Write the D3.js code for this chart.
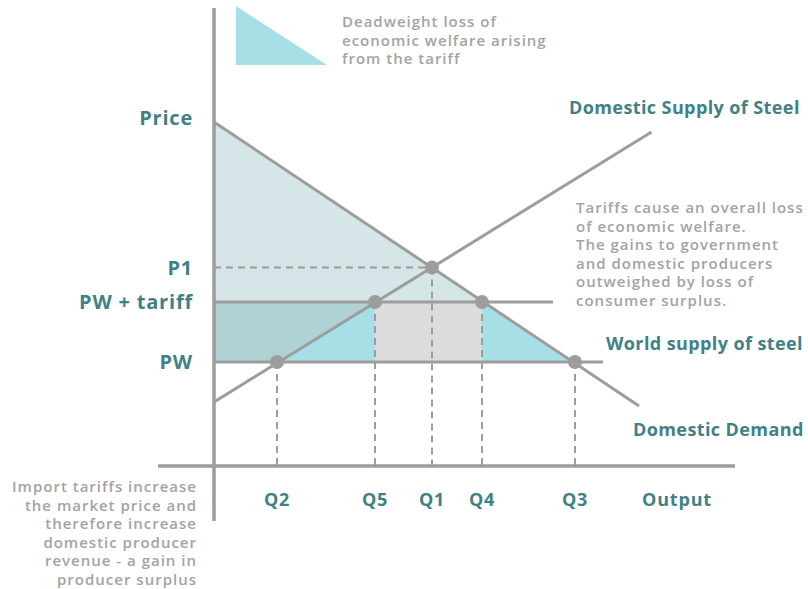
<!DOCTYPE html>
<html>
<head>
<meta charset="utf-8">
<script src="https://cdn.jsdelivr.net/npm/d3@7"></script>
<style>
  body { margin: 0; background: #fff; }
  svg { display: block; }
  .lbl { font-family: "Open Sans", sans-serif; font-weight: 700; fill: #3f8186; letter-spacing: 0.8px; }
  .side { letter-spacing: 0.4px; }
  .note { font-family: "Open Sans", sans-serif; font-weight: 600; fill: #a3a3a3; font-size: 15px; letter-spacing: 1px; }
</style>
</head>
<body>
<svg id="chart" width="808" height="589"></svg>
<script>
// curves as end points (quantity, price)
const demand = [[0, 8.6], [8.5, 1.5]];
const supply = [[0, 1.6], [8.75, 8.35]];

// price levels
const priceNames = ["P1", "PW + tariff", "PW"];
const priceValues = [4.96, 4.1, 2.6];

// quantities
const qNames = ["Q2", "Q5", "Q1", "Q4", "Q3"];
const qValues = [1.26, 3.22, 4.36, 5.36, 7.22];

const width = 808;
const height = 589;
const svg = d3.select("#chart");

const x = d3.scaleLinear().domain([0, 10]).range([214, 714]);
const y = d3.scaleLinear().domain([0, 10]).range([466, 66]);

const P1 = priceValues[0], PWT = priceValues[1], PW = priceValues[2];
const [Q2, Q5, Q1, Q4, Q3] = qValues;

const line = d3.line().x(d => x(d[0])).y(d => y(d[1]));

const gray = "#9d9d9d";
const cyan = "#a6dfe6";

// shaded areas
const areas = [
  { pts: [[0, demand[0][1]], [Q4, PWT], [0, PWT]], fill: "#d6e5e7" },
  { pts: [[0, PWT], [Q5, PWT], [Q2, PW], [0, PW]], fill: "#b1d2d5" },
  { pts: [[Q2, PW], [Q5, PWT], [Q5, PW]], fill: cyan },
  { pts: [[Q5, PWT], [Q4, PWT], [Q4, PW], [Q5, PW]], fill: "#dddddd" },
  { pts: [[Q4, PWT], [Q3, PW], [Q4, PW]], fill: cyan }
];
svg.append("g")
  .selectAll("path")
  .data(areas)
  .enter()
  .append("path")
  .attr("d", d => line(d.pts) + "Z")
  .attr("fill", d => d.fill);

// legend triangle
svg.append("path")
  .attr("d", "M236,6L236,65L327,65Z")
  .attr("fill", cyan);

// dashed guides
const dashes = svg.append("g")
  .attr("stroke", gray)
  .attr("stroke-width", 2)
  .attr("stroke-dasharray", "7,5");
dashes.append("line")
  .attr("x1", x(0)).attr("x2", x(Q1))
  .attr("y1", y(P1)).attr("y2", y(P1));
const qPrice = [PW, PWT, P1, PWT, PW];
dashes.selectAll(".vq")
  .data(qValues)
  .enter()
  .append("line")
  .attr("class", "vq")
  .attr("x1", d => x(d)).attr("x2", d => x(d))
  .attr("y1", (d, i) => y(qPrice[i])).attr("y2", y(0));

// price lines
svg.append("line")
  .attr("x1", x(0)).attr("x2", x(6.78))
  .attr("y1", y(PWT)).attr("y2", y(PWT))
  .attr("stroke", gray).attr("stroke-width", 3);
svg.append("line")
  .attr("x1", x(0)).attr("x2", x(7.78))
  .attr("y1", y(PW)).attr("y2", y(PW))
  .attr("stroke", gray).attr("stroke-width", 3);

// demand and supply
[demand, supply].forEach(c => {
  svg.append("path")
    .attr("d", line(c))
    .attr("fill", "none")
    .attr("stroke", gray)
    .attr("stroke-width", 3);
});

// axes
svg.append("line")
  .attr("x1", x(0)).attr("x2", x(0))
  .attr("y1", 8).attr("y2", 521)
  .attr("stroke", gray).attr("stroke-width", 3.5);
svg.append("line")
  .attr("x1", 158).attr("x2", 735)
  .attr("y1", y(0)).attr("y2", y(0))
  .attr("stroke", gray).attr("stroke-width", 3.5);

// points
svg.append("g")
  .selectAll("circle")
  .data(qValues)
  .enter()
  .append("circle")
  .attr("cx", d => x(d))
  .attr("cy", (d, i) => y(qPrice[i]))
  .attr("r", 7)
  .attr("fill", gray);

// labels
svg.append("text").attr("class", "lbl")
  .attr("x", 193).attr("y", 118).attr("dy", "0.35em")
  .attr("text-anchor", "end").style("font-size", "20px")
  .text("Price");
svg.selectAll(".plbl")
  .data(priceNames)
  .enter()
  .append("text")
  .attr("class", "lbl plbl")
  .attr("x", 193)
  .attr("y", (d, i) => y(priceValues[i]))
  .attr("dy", "0.35em")
  .attr("text-anchor", "end")
  .style("font-size", "20px")
  .text(d => d);
svg.selectAll(".qlbl")
  .data(qNames)
  .enter()
  .append("text")
  .attr("class", "lbl qlbl")
  .attr("x", (d, i) => x(qValues[i]))
  .attr("y", 500)
  .attr("dy", "0.35em")
  .attr("text-anchor", "middle")
  .style("font-size", "18px")
  .text(d => d);
svg.append("text").attr("class", "lbl")
  .attr("x", 677).attr("y", 500).attr("dy", "0.35em")
  .attr("text-anchor", "middle").style("font-size", "18px")
  .text("Output");
svg.append("text").attr("class", "lbl side")
  .attr("x", 569).attr("y", 108).attr("dy", "0.35em")
  .style("font-size", "18px")
  .text("Domestic Supply of Steel");
svg.append("text").attr("class", "lbl side")
  .attr("x", 606).attr("y", 344).attr("dy", "0.35em")
  .style("font-size", "18px")
  .text("World supply of steel");
svg.append("text").attr("class", "lbl side")
  .attr("x", 633).attr("y", 430).attr("dy", "0.35em")
  .style("font-size", "18px")
  .text("Domestic Demand");

// notes
function note(lines, xPos, yTop, step, anchor) {
  const t = svg.append("text")
    .attr("class", "note")
    .attr("text-anchor", anchor);
  lines.forEach((s, i) => {
    t.append("tspan")
      .attr("x", xPos)
      .attr("y", yTop + i * step)
      .attr("dy", "0.35em")
      .text(s);
  });
}
note(["Deadweight loss of", "economic welfare arising", "from the tariff"], 342, 22, 18.5, "start");
note(["Tariffs cause an overall loss", "of economic welfare.", "The gains to government",
      "and domestic producers", "outweighed by loss of", "consumer surplus."], 576, 208, 18.5, "start");
note(["Import tariffs increase", "the market price and", "therefore increase",
      "domestic producer", "revenue - a gain in", "producer surplus"], 197, 487, 18.5, "end");
</script>
</body>
</html>
